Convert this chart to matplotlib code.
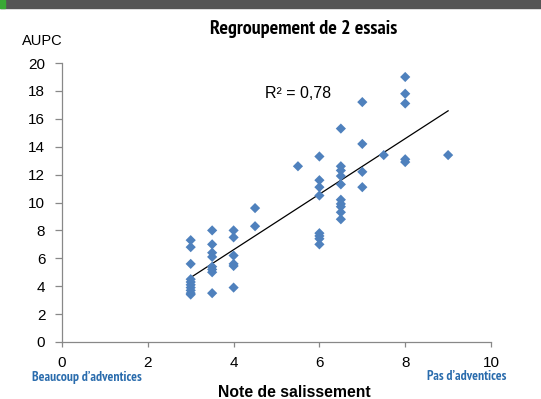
import numpy as np
import matplotlib
matplotlib.use("Agg")
import matplotlib.pyplot as plt
from matplotlib.patches import Rectangle
from matplotlib import font_manager

# Data (note de salissement, AUPC)
x_vals = [3, 3, 3, 3, 3, 3, 3, 3, 3, 3,
          3.5, 3.5, 3.5, 3.5, 3.5, 3.5, 3.5, 3.5,
          4, 4, 4, 4, 4, 4,
          4.5, 4.5,
          5.5,
          6, 6, 6, 6, 6, 6, 6, 6,
          6.5, 6.5, 6.5, 6.5, 6.5, 6.5, 6.5, 6.5, 6.5, 6.5,
          7, 7, 7, 7,
          7.5,
          8, 8, 8, 8, 8,
          9]
y_vals = [7.3, 6.8, 5.6, 4.5, 4.3, 4.1, 3.9, 3.7, 3.5, 3.4,
          8.0, 7.0, 6.4, 6.1, 5.4, 5.2, 5.0, 3.5,
          8.0, 7.5, 6.2, 5.6, 5.45, 3.9,
          9.6, 8.3,
          12.6,
          13.3, 11.6, 11.1, 10.5, 7.8, 7.6, 7.4, 7.0,
          15.3, 12.6, 12.3, 11.9, 11.3, 10.2, 9.9, 9.7, 9.3, 8.8,
          17.2, 14.2, 12.2, 11.1,
          13.4,
          19.0, 17.8, 17.1, 13.1, 12.9,
          13.4]
x_ticks = [0, 2, 4, 6, 8, 10]
y_ticks = list(range(0, 21, 2))
r2_label = "R² = 0,78"
title = "Regroupement de 2 essais"
xlabel = "Note de salissement"
ylabel = "AUPC"
left_note = "Beaucoup d’adventices"
right_note = "Pas d’adventices"

plt.rcParams["font.family"] = ["Liberation Sans", "DejaVu Sans"]

# pick a bold condensed family (Myriad-like) if one is installed
avail = {}
for f in font_manager.fontManager.ttflist:
    w = f.weight if isinstance(f.weight, int) else 400
    avail.setdefault(f.name, set()).add(w)
prefs = ["PT Sans Narrow", "Fira Sans Condensed", "Asap Condensed", "Roboto Condensed",
         "Archivo Narrow", "Encode Sans Condensed", "IBM Plex Sans Condensed",
         "Open Sans Condensed", "Barlow Semi Condensed", "Liberation Sans Narrow"]
narrow = None
for p in prefs:
    if p in avail and any(w >= 600 for w in avail[p]):
        narrow = p
        break
if narrow is None:
    narrow_family = ["Liberation Sans", "DejaVu Sans"]
    title_size, note_size = 11.5, 8.2
else:
    narrow_family = [narrow, "DejaVu Sans"]
    title_size, note_size = 14.5, 9.7

fig = plt.figure(figsize=(5.41, 3.99), dpi=100)
fig.patch.set_facecolor("white")

# top banner (cropped header)
fig.patches.append(Rectangle((0, 0.979), 1, 0.021, transform=fig.transFigure,
                             color="#555555", zorder=0))
fig.patches.append(Rectangle((0, 0.979), 0.01, 0.021, transform=fig.transFigure,
                             color="#3aa935", zorder=1))

ax = fig.add_axes([0.1146, 0.1429, 0.7930, 0.6991])
ax.scatter(x_vals, y_vals, marker="D", s=27, color="#4F81BD", edgecolors="none", zorder=3)

# linear trend line
xa = np.array(x_vals, dtype=float)
ya = np.array(y_vals, dtype=float)
slope, intercept = np.polyfit(xa, ya, 1)
xl = np.array([xa.min(), xa.max()])
ax.plot(xl, slope * xl + intercept, color="black", lw=0.9, zorder=2)

ax.set_xlim(0, 10)
ax.set_ylim(0, 20)
ax.set_xticks(x_ticks)
ax.set_yticks(y_ticks)
for s in ["top", "right"]:
    ax.spines[s].set_visible(False)
for s in ["left", "bottom"]:
    ax.spines[s].set_color("#888888")
    ax.spines[s].set_linewidth(0.9)
ax.tick_params(axis="both", colors="#888888", labelcolor="black", labelsize=11,
               width=0.9, direction="out")
ax.tick_params(axis="x", length=3.5, pad=6.5)
ax.tick_params(axis="y", length=5, pad=7)

ax.text(0.473, 0.892, r2_label, transform=ax.transAxes, fontsize=11.5, ha="left", va="center")

fig.text(0.562, 0.928, title, ha="center", va="center", fontsize=title_size,
         fontweight="bold", family=narrow_family)
fig.text(0.040, 0.898, ylabel, ha="left", va="center", fontsize=10.5)
fig.text(0.544, 0.017, xlabel, ha="center", va="center", fontsize=11.3, fontweight="bold")
fig.text(0.059, 0.055, left_note, ha="left", va="center", fontsize=note_size, color="#2a6cad",
         fontweight="bold", family=narrow_family)
fig.text(0.936, 0.057, right_note, ha="right", va="center", fontsize=note_size, color="#2a6cad",
         fontweight="bold", family=narrow_family)

fig.savefig("out.png", dpi=100)
